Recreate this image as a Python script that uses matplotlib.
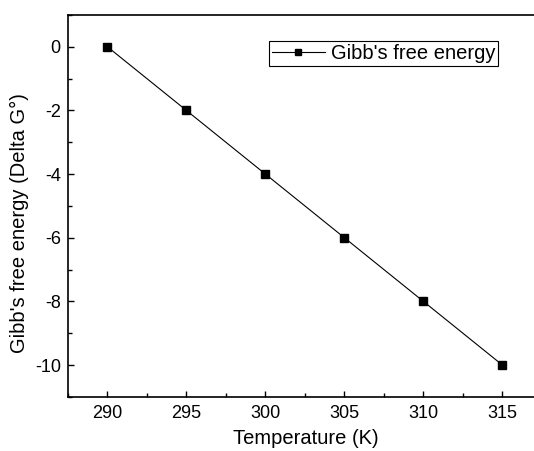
import matplotlib.pyplot as plt
from matplotlib.ticker import MultipleLocator

plt.rcParams['font.family'] = ['Liberation Sans', 'DejaVu Sans']
plt.rcParams['axes.unicode_minus'] = False

# Data
temperature = [290, 295, 300, 305, 310, 315]
delta_g = [0, -2, -4, -6, -8, -10]

fig = plt.figure(figsize=(5.34, 4.51), dpi=100)
ax = fig.add_axes([0.127, 0.12, 0.873, 0.847])

ax.plot(temperature, delta_g, color='black', linewidth=0.8, marker='s',
        markersize=6, label="Gibb's free energy")

ax.set_xlim(287.5, 317)
ax.set_ylim(-11, 1)
ax.xaxis.set_major_locator(MultipleLocator(5))
ax.xaxis.set_minor_locator(MultipleLocator(2.5))
ax.yaxis.set_major_locator(MultipleLocator(2))
ax.yaxis.set_minor_locator(MultipleLocator(1))
ax.tick_params(which='both', direction='in', labelsize=13, top=False, right=False)
ax.tick_params(axis='x', which='major', pad=6)
ax.tick_params(axis='y', which='major', pad=5)
ax.tick_params(which='major', length=4, width=1)
ax.tick_params(which='minor', length=3, width=1)

ax.spines['right'].set_visible(False)
for s in ['left', 'bottom', 'top']:
    ax.spines[s].set_linewidth(1.2)

ax.set_xlabel('Temperature (K)', fontsize=14.5)
ax.set_ylabel("Gibb's free energy (Delta G°)", fontsize=14.5)
ax.xaxis.set_label_coords(0.51, -0.085)
ax.yaxis.set_label_coords(-0.084, 0.455)

leg = ax.legend(loc='upper right', bbox_to_anchor=(0.923, 0.932), borderaxespad=0,
                fontsize=14.5, fancybox=False, edgecolor='black', framealpha=1,
                handlelength=2.6, borderpad=0.15, handletextpad=0.3, markerscale=0.8)
leg.get_frame().set_linewidth(0.8)

plt.savefig('out.png', dpi=100)
